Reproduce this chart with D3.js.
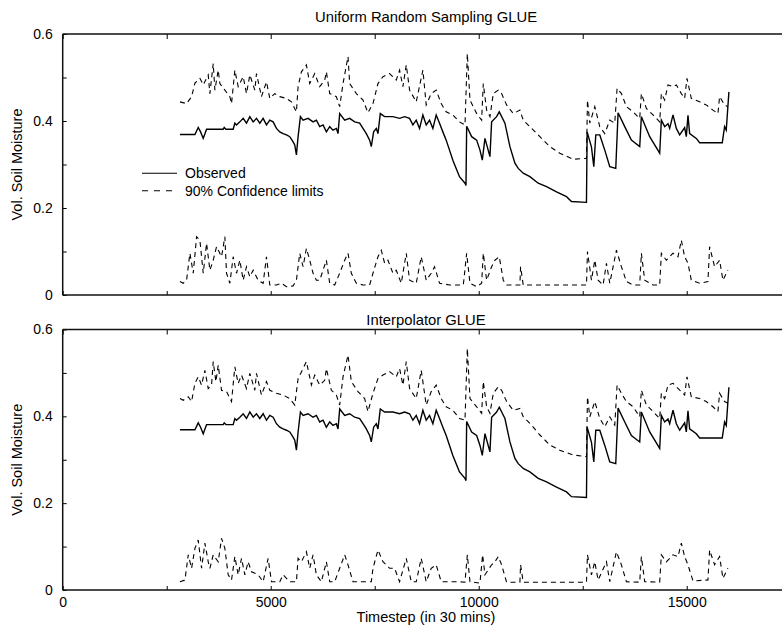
<!DOCTYPE html>
<html><head><meta charset="utf-8">
<script src="https://cdn.jsdelivr.net/npm/d3@7"></script>
<style>body{margin:0;background:#fff}svg{display:block;font-family:"Liberation Sans",Arial,Helvetica,sans-serif}</style>
</head><body><div id="chart"></div>
<script>
// ---------- data ----------
const panelTitles = ["Uniform Random Sampling GLUE", "Interpolator GLUE"];
const xTickValues = [0, 2500, 5000, 7500, 10000, 12500, 15000];
const xTickLabels = {0: "0", 5000: "5000", 10000: "10000", 15000: "15000"};
const yTickValues = [0, 0.1, 0.2, 0.3, 0.4, 0.5, 0.6];
const yTickLabels = {0: "0", 0.2: "0.2", 0.4: "0.4", 0.6: "0.6"};
const legendLabels = ["Observed", "90% Confidence limits"];

// observed soil moisture [timestep, value]
const observed = [[2818,.369],[3178,.369],[3258,.385],[3314,.375],[3378,.360],[3458,.381],[3858,.381],[3882,.385],[3922,.381],[4098,.381],[4138,.395],[4178,.391],[4258,.398],[4338,.406],[4418,.395],[4498,.410],[4578,.398],[4658,.406],[4738,.395],[4818,.406],[4898,.391],[4978,.402],[5058,.398],[5138,.383],[5218,.375],[5298,.371],[5378,.368],[5458,.364],[5538,.352],[5578,.345],[5618,.322],[5658,.364],[5714,.410],[5778,.402],[5898,.406],[6018,.398],[6098,.402],[6178,.387],[6258,.391],[6338,.375],[6418,.387],[6498,.379],[6578,.383],[6618,.371],[6658,.417],[6778,.402],[6898,.406],[7018,.398],[7138,.395],[7218,.383],[7298,.371],[7378,.356],[7418,.341],[7474,.375],[7538,.383],[7578,.371],[7634,.417],[7738,.410],[7938,.410],[8098,.406],[8218,.410],[8338,.406],[8418,.391],[8498,.402],[8578,.383],[8658,.414],[8738,.391],[8818,.402],[8898,.383],[8978,.414],[9058,.395],[9138,.375],[9218,.356],[9298,.333],[9378,.310],[9458,.291],[9538,.272],[9670,.257],[9694,.252],[9710,.388],[9830,.364],[9950,.356],[10030,.333],[10086,.310],[10150,.360],[10270,.318],[10310,.398],[10430,.410],[10494,.421],[10630,.395],[10750,.341],[10870,.303],[10950,.291],[11070,.280],[11230,.272],[11430,.257],[11630,.249],[11870,.237],[12110,.226],[12230,.215],[12590,.213],[12606,.375],[12710,.340],[12766,.295],[12814,.368],[12910,.368],[13030,.333],[13150,.295],[13294,.291],[13350,.419],[13510,.387],[13670,.356],[13870,.341],[13910,.410],[14110,.364],[14350,.326],[14390,.402],[14470,.387],[14550,.394],[14590,.383],[14670,.414],[14750,.383],[14830,.368],[14950,.385],[14990,.364],[15030,.413],[15070,.371],[15230,.360],[15310,.350],[15854,.350],[15910,.387],[15950,.379],[16014,.467]];

// Uniform Random Sampling GLUE: 90% limits
const ursUpper = [[2818,.444],[2978,.440],[3098,.456],[3178,.487],[3298,.498],[3378,.483],[3498,.506],[3538,.463],[3618,.532],[3658,.471],[3738,.517],[3778,.486],[3898,.471],[4018,.456],[4058,.440],[4138,.517],[4218,.479],[4338,.502],[4418,.463],[4498,.506],[4618,.471],[4658,.509],[4778,.456],[4898,.490],[4978,.452],[5098,.463],[5218,.456],[5378,.452],[5498,.444],[5618,.421],[5658,.479],[5738,.513],[5858,.529],[5938,.486],[6058,.509],[6178,.479],[6298,.494],[6338,.513],[6418,.463],[6578,.456],[6658,.433],[6738,.486],[6858,.548],[6898,.486],[7058,.463],[7218,.448],[7338,.419],[7458,.440],[7578,.486],[7698,.502],[7858,.509],[8018,.494],[8098,.517],[8178,.479],[8258,.529],[8338,.471],[8498,.444],[8658,.517],[8738,.437],[8858,.463],[8978,.471],[9098,.440],[9218,.421],[9378,.414],[9538,.398],[9670,.391],[9726,.555],[9790,.448],[9950,.417],[10070,.402],[10110,.486],[10190,.425],[10270,.410],[10350,.463],[10470,.471],[10550,.463],[10670,.437],[10830,.417],[10990,.425],[11070,.402],[11230,.387],[11470,.364],[11710,.341],[11950,.326],[12270,.312],[12590,.314],[12614,.448],[12670,.395],[12790,.433],[12910,.387],[13030,.371],[13150,.402],[13270,.395],[13326,.475],[13430,.463],[13550,.433],[13710,.421],[13870,.406],[13910,.463],[14030,.429],[14190,.414],[14350,.398],[14390,.463],[14470,.448],[14550,.483],[14670,.479],[14750,.483],[14870,.463],[14950,.452],[15006,.498],[15110,.452],[15310,.444],[15470,.437],[15630,.425],[15750,.417],[15790,.456],[15910,.437],[15990,.433]];
const ursLower = [[2818,.031],[2898,.027],[2978,.034],[3058,.096],[3138,.050],[3218,.134],[3298,.126],[3378,.050],[3458,.119],[3538,.057],[3618,.080],[3698,.111],[3818,.088],[3898,.134],[3938,.050],[4018,.027],[4098,.088],[4178,.050],[4258,.080],[4338,.034],[4418,.065],[4498,.042],[4578,.057],[4698,.034],[4818,.027],[4898,.088],[4978,.023],[5138,.023],[5258,.027],[5378,.019],[5538,.021],[5618,.034],[5698,.096],[5778,.065],[5858,.107],[5938,.080],[6018,.050],[6098,.034],[6178,.034],[6338,.080],[6418,.027],[6538,.023],[6658,.050],[6778,.080],[6858,.096],[6938,.050],[7058,.027],[7218,.023],[7378,.023],[7458,.050],[7578,.088],[7658,.103],[7738,.073],[7818,.080],[7938,.050],[8018,.057],[8138,.027],[8258,.096],[8338,.034],[8498,.027],[8618,.088],[8738,.034],[8858,.050],[8938,.065],[9058,.027],[9298,.023],[9538,.023],[9630,.023],[9710,.096],[9790,.027],[9950,.019],[10070,.027],[10110,.096],[10190,.034],[10310,.065],[10390,.080],[10494,.088],[10590,.034],[10670,.023],[10990,.023],[11006,.065],[11070,.023],[12590,.023],[12614,.100],[12710,.034],[12790,.080],[12870,.034],[12990,.023],[13070,.073],[13150,.027],[13310,.103],[13430,.065],[13550,.031],[13710,.023],[13870,.023],[13910,.096],[13990,.034],[14190,.023],[14350,.023],[14390,.096],[14510,.080],[14670,.096],[14790,.088],[14870,.126],[14950,.088],[15030,.073],[15110,.034],[15310,.027],[15510,.031],[15550,.111],[15670,.065],[15790,.080],[15870,.034],[15990,.057]];

// Interpolator GLUE: 90% limits
const intUpper = [[2818,.441],[2898,.437],[3018,.445],[3098,.434],[3178,.476],[3258,.491],[3338,.472],[3418,.506],[3498,.464],[3578,.472],[3618,.526],[3682,.480],[3738,.518],[3818,.460],[3938,.457],[4058,.434],[4138,.514],[4218,.476],[4298,.495],[4418,.464],[4498,.499],[4618,.460],[4658,.499],[4778,.449],[4898,.480],[4978,.460],[5138,.453],[5298,.449],[5458,.441],[5578,.426],[5658,.487],[5778,.510],[5858,.526],[5978,.472],[6058,.495],[6178,.472],[6298,.483],[6338,.510],[6458,.460],[6578,.449],[6658,.426],[6738,.491],[6858,.541],[6938,.480],[7098,.457],[7258,.441],[7338,.411],[7458,.453],[7578,.487],[7698,.495],[7858,.503],[8018,.491],[8098,.510],[8178,.472],[8258,.526],[8338,.464],[8498,.441],[8618,.506],[8738,.426],[8858,.457],[8978,.472],[9098,.441],[9218,.422],[9378,.414],[9538,.395],[9670,.391],[9726,.556],[9790,.441],[9950,.422],[10070,.407],[10110,.480],[10190,.422],[10270,.407],[10350,.453],[10470,.468],[10550,.460],[10670,.434],[10830,.414],[10990,.418],[11070,.399],[11230,.384],[11470,.357],[11710,.334],[11950,.322],[12270,.311],[12590,.307],[12614,.445],[12670,.399],[12790,.434],[12910,.395],[13030,.376],[13150,.399],[13270,.380],[13326,.472],[13430,.453],[13550,.434],[13710,.422],[13870,.399],[13910,.460],[14030,.426],[14190,.411],[14350,.395],[14390,.453],[14470,.441],[14550,.472],[14670,.476],[14750,.468],[14870,.457],[14950,.449],[15006,.491],[15110,.445],[15310,.441],[15470,.434],[15630,.422],[15750,.411],[15790,.453],[15910,.434],[15990,.430]];
const intLower = [[2818,.019],[2938,.023],[3018,.081],[3098,.050],[3178,.096],[3258,.115],[3338,.050],[3418,.108],[3498,.065],[3538,.050],[3618,.081],[3738,.065],[3818,.119],[3898,.096],[3978,.035],[4058,.023],[4138,.077],[4218,.035],[4298,.073],[4378,.035],[4458,.065],[4538,.042],[4698,.035],[4818,.019],[4938,.073],[5018,.019],[5218,.019],[5298,.035],[5458,.019],[5618,.019],[5658,.073],[5738,.065],[5858,.088],[5938,.050],[6018,.081],[6098,.035],[6218,.019],[6338,.065],[6418,.019],[6538,.019],[6658,.050],[6778,.081],[6858,.058],[6978,.019],[7218,.019],[7418,.019],[7458,.050],[7578,.092],[7698,.065],[7778,.058],[7858,.050],[7978,.050],[8098,.019],[8258,.073],[8378,.019],[8498,.019],[8618,.073],[8738,.019],[8858,.050],[8978,.058],[9098,.019],[9538,.019],[9670,.018],[9726,.081],[9790,.019],[10030,.016],[10094,.081],[10150,.035],[10310,.058],[10390,.065],[10470,.077],[10550,.058],[10670,.018],[10990,.018],[11006,.058],[11070,.018],[12590,.018],[12614,.081],[12710,.035],[12790,.065],[12870,.023],[13070,.065],[13150,.019],[13310,.088],[13430,.058],[13550,.019],[13870,.018],[13910,.077],[13990,.019],[14350,.018],[14390,.081],[14510,.065],[14670,.081],[14790,.077],[14870,.108],[14950,.077],[15030,.058],[15150,.021],[15510,.023],[15550,.092],[15670,.058],[15790,.077],[15870,.027],[15990,.050]];

const panelUpper = [ursUpper, intUpper];
const panelLower = [ursLower, intLower];

// ---------- drawing ----------
const W = 782, H = 629;
const svg = d3.select("#chart").append("svg").attr("width", W).attr("height", H);
const left = 62.7, right = 782;
const x = d3.scaleLinear().domain([0, 17290]).range([left, right]);
const panels = [{top: 34, bottom: 295, titleY: 21.5}, {top: 329.5, bottom: 590, titleY: 325}];
const dash = "5,4";

panels.forEach((p, i) => {
  const y = d3.scaleLinear().domain([0, 0.6]).range([p.bottom, p.top]);
  const g = svg.append("g");
  const clipId = "clip" + i;
  svg.append("clipPath").attr("id", clipId).append("rect")
    .attr("x", left).attr("y", p.top - 10).attr("width", right - left).attr("height", p.bottom - p.top + 10);

  const line = d3.line().x(d => x(d[0])).y(d => y(d[1]));
  const plot = g.append("g").attr("clip-path", `url(#${clipId})`);
  plot.append("path").attr("d", line(observed)).attr("fill", "none").attr("stroke", "#000").attr("stroke-width", 1.4).attr("stroke-linejoin", "miter");
  plot.append("path").attr("d", line(panelUpper[i])).attr("fill", "none").attr("stroke", "#000").attr("stroke-width", 1.1).attr("stroke-dasharray", dash);
  plot.append("path").attr("d", line(panelLower[i])).attr("fill", "none").attr("stroke", "#000").attr("stroke-width", 1.1).attr("stroke-dasharray", dash);

  // axes
  const yAxis = d3.axisLeft(y).tickValues(yTickValues).tickSizeInner(-4).tickSizeOuter(0).tickPadding(10)
    .tickFormat(d => yTickLabels[Math.round(d * 10) / 10] || "");
  const ya = g.append("g").attr("transform", `translate(${left},0)`).call(yAxis);
  const xb = d3.axisBottom(x).tickValues(xTickValues).tickSizeInner(-4).tickSizeOuter(0).tickPadding(7)
    .tickFormat(d => i === 1 ? (xTickLabels[d] || "") : "");
  const xa = g.append("g").attr("transform", `translate(0,${p.bottom})`).call(xb);
  const xt = d3.axisTop(x).tickValues(xTickValues).tickSizeInner(-5).tickSizeOuter(0).tickFormat("");
  const xta = g.append("g").attr("transform", `translate(0,${p.top})`).call(xt);
  [ya, xa, xta].forEach(a => {
    a.select(".domain").remove();
    a.selectAll(".tick line").attr("stroke", "#000").attr("stroke-width", 1);
    a.selectAll("text").attr("font-size", 14).attr("fill", "#000").attr("font-family", "Liberation Sans, Arial, sans-serif");
  });
  // frame lines (left, top, bottom)
  g.append("line").attr("x1", left).attr("x2", right).attr("y1", p.top).attr("y2", p.top).attr("stroke", "#111").attr("stroke-width", 1.5);
  g.append("line").attr("x1", left).attr("x2", right).attr("y1", p.bottom).attr("y2", p.bottom).attr("stroke", "#111").attr("stroke-width", 1.5);
  g.append("line").attr("x1", left).attr("x2", left).attr("y1", p.top).attr("y2", p.bottom).attr("stroke", "#111").attr("stroke-width", 1.5);

  // title
  svg.append("text").attr("x", 426).attr("y", p.titleY).attr("text-anchor", "middle")
    .attr("font-size", 14.8).text(panelTitles[i]);
  // y label
  svg.append("text").attr("transform", `translate(22,${(p.top + p.bottom) / 2}) rotate(-90)`)
    .attr("text-anchor", "middle").attr("font-size", 14.5).text("Vol. Soil Moisture");

  if (i === 0) {
    const lg = svg.append("g");
    lg.append("line").attr("x1", 142).attr("x2", 177).attr("y1", 173.3).attr("y2", 173.3).attr("stroke", "#000").attr("stroke-width", 1.1);
    lg.append("line").attr("x1", 142).attr("x2", 177).attr("y1", 190.7).attr("y2", 190.7).attr("stroke", "#000").attr("stroke-width", 1.1).attr("stroke-dasharray", "6,6");
    lg.append("text").attr("x", 185).attr("y", 178.3).attr("font-size", 14).text(legendLabels[0]);
    lg.append("text").attr("x", 185).attr("y", 195.7).attr("font-size", 14).text(legendLabels[1]);
  }
});

svg.append("text").attr("x", 426).attr("y", 621.5).attr("text-anchor", "middle").attr("font-size", 14.5).text("Timestep (in 30 mins)");
</script>
</body></html>
